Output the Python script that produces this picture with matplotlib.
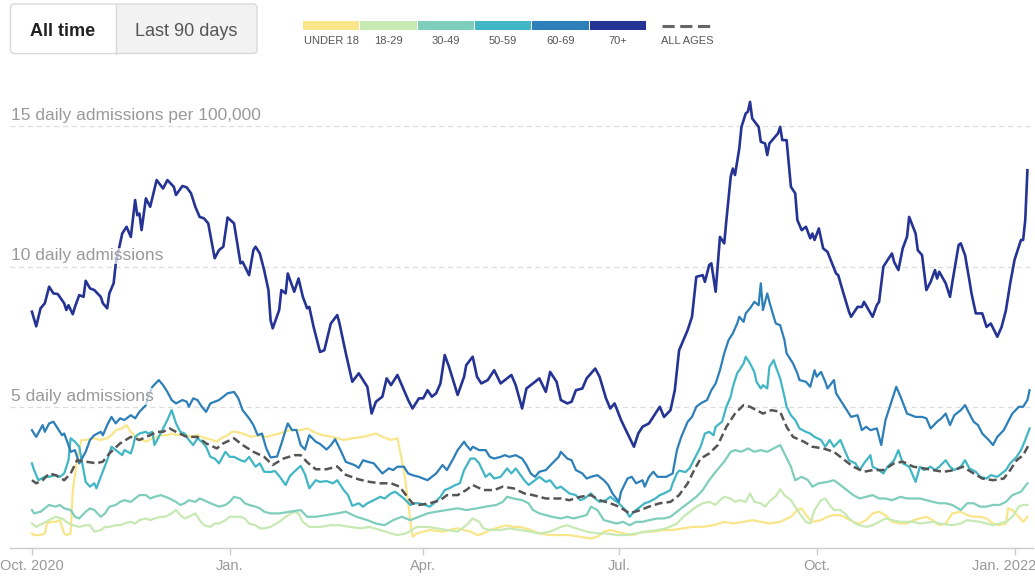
import numpy as np
import matplotlib.pyplot as plt
import matplotlib.dates as mdates
from matplotlib.patches import Rectangle, FancyBboxPatch
from matplotlib.transforms import ScaledTranslation

plt.rcParams['font.family'] = ['Liberation Sans', 'DejaVu Sans']

# (days after Oct. 1, 2020, daily admissions per 100,000)
under_18 = [(0,0.52),(1,0.46),(4,0.46),(6,0.52),(7,0.87),(9,0.93),(11,0.93),(13,0.99),(15,0.52),(16,0.46),
    (18,0.52),(19,2.06),(21,3.12),(22,3.48),(23,3.84),(25,3.84),(29,3.90),(32,3.84),(35,3.90),(37,4.01),
    (39,4.19),(42,4.25),(44,4.37),(46,4.13),(49,3.90),(51,3.84),(53,3.78),(56,3.90),(58,3.95),(60,4.01),
    (63,4.01),(65,4.07),(67,4.01),(70,4.07),(72,4.01),(74,3.95),(77,4.01),(79,3.95),(81,3.90),(84,3.84),
    (86,3.78),(88,3.90),(91,4.01),(93,4.13),(95,4.13),(98,4.07),(100,4.01),(102,3.95),(105,4.01),(109,3.95),
    (112,4.01),(115,4.07),(120,4.19),(125,4.19),(128,4.25),(131,4.13),(135,4.01),(140,3.95),(145,3.84),
    (149,3.90),(154,3.95),(157,4.01),(160,4.07),(163,3.95),(167,3.84),(170,3.90),(173,2.77),(175,1.59),
    (177,0.40),(179,0.52),(182,0.58),(185,0.64),(191,0.58),(194,0.64),(198,0.70),(201,0.64),(204,0.58),
    (207,0.46),(210,0.52),(213,0.64),(218,0.75),(221,0.81),(224,0.75),(227,0.75),(232,0.64),(236,0.52),
    (241,0.46),(246,0.46),(250,0.46),(255,0.40),(260,0.34),(263,0.40),(266,0.58),(269,0.64),(272,0.58),
    (275,0.52),(280,0.46),(284,0.58),(289,0.58),(294,0.64),(298,0.64),(303,0.70),(307,0.75),(312,0.75),
    (317,0.81),(322,0.93),(326,0.87),(331,0.93),(335,0.99),(339,0.93),(343,0.87),(348,0.93),(353,1.11),
    (356,1.35),(358,1.41),(360,1.17),(363,0.93),(367,0.99),(370,1.11),(373,1.17),(376,1.17),(379,1.05),
    (382,0.93),(385,0.87),(388,0.99),(391,1.23),(394,1.29),(397,1.17),(400,0.93),(404,0.87),(407,0.87),
    (410,0.99),(413,1.05),(416,1.11),(419,0.99),(422,0.81),(425,0.87),(428,1.23),(432,1.29),(435,1.17),
    (438,1.11),(441,1.11),(444,1.05),(447,0.87),(450,0.81),(453,0.87),(454,1.41),(456,1.35),(459,1.11),
    (461,0.93),(463,1.11)]

age_18_29 = [(0,0.87),(2,0.75),(5,0.87),(8,0.99),(11,1.11),(14,1.05),(16,0.93),(19,0.81),(22,0.75),(25,0.81),
    (27,0.81),(29,0.58),(32,0.64),(34,0.75),(36,0.75),(39,0.81),(41,0.81),(43,0.87),(46,0.93),(48,0.87),
    (50,0.99),(53,1.05),(55,0.99),(57,1.05),(60,1.11),(62,1.11),(65,1.23),(67,1.35),(69,1.17),(71,1.05),
    (73,1.11),(76,1.23),(78,0.99),(80,0.81),(83,0.75),(85,0.87),(87,0.87),(90,0.99),(92,1.11),(97,1.11),
    (99,1.05),(101,0.87),(104,0.81),(106,0.70),(108,0.70),(111,0.75),(115,0.93),(118,1.11),(122,1.29),
    (124,1.23),(126,0.93),(129,0.75),(134,0.75),(139,0.81),(143,0.81),(148,0.75),(153,0.70),(157,0.75),
    (162,0.64),(167,0.52),(170,0.46),(174,0.52),(179,0.75),(184,0.75),(188,0.70),(193,0.64),(198,0.58),
    (202,0.81),(205,1.05),(208,0.93),(210,0.70),(213,0.64),(218,0.64),(222,0.70),(227,0.64),(232,0.58),
    (236,0.52),(241,0.58),(246,0.75),(249,0.81),(253,0.70),(258,0.58),(263,0.52),(267,0.52),(272,0.46),
    (277,0.46),(281,0.52),(286,0.58),(291,0.64),(295,0.70),(300,0.87),(303,1.11),(306,1.29),(309,1.47),
    (312,1.59),(315,1.64),(318,1.53),(320,1.70),(322,1.82),(325,1.76),(327,1.64),(329,1.70),(332,1.64),
    (334,1.94),(336,1.64),(339,1.59),(341,1.47),(343,1.65),(346,1.85),(348,2.09),(350,1.88),(353,1.70),
    (355,1.47),(357,1.23),(360,0.93),(362,0.87),(364,1.35),(367,1.70),(369,1.76),(371,1.53),(373,1.35),
    (376,1.35),(378,1.23),(380,1.05),(383,0.87),(385,0.81),(388,0.75),(391,0.81),(394,0.93),(397,1.05),
    (400,0.99),(404,0.93),(410,0.93),(413,0.87),(419,0.93),(422,0.87),(428,0.81),(432,0.87),(435,0.99),
    (441,0.93),(447,0.81),(450,0.87),(453,0.93),(456,1.11),(459,1.47),(461,1.53),(463,1.53)]

age_30_49 = [(0,1.35),(1,1.23),(4,1.29),(6,1.41),(8,1.53),(11,1.47),(13,1.53),(15,1.41),(18,1.35),(20,1.11),
    (22,1.05),(25,1.29),(27,1.41),(29,1.35),(32,1.11),(34,1.23),(36,1.47),(39,1.53),(41,1.64),(43,1.70),
    (46,1.64),(48,1.76),(50,1.88),(53,1.88),(55,1.76),(57,1.82),(60,1.88),(62,1.82),(64,1.76),(67,1.64),
    (69,1.53),(71,1.59),(73,1.70),(76,1.64),(78,1.76),(80,1.70),(83,1.59),(85,1.53),(87,1.47),(90,1.53),
    (92,1.64),(94,1.82),(97,1.76),(99,1.59),(101,1.53),(104,1.47),(106,1.41),(108,1.29),(111,1.23),
    (115,1.23),(120,1.29),(125,1.35),(128,1.11),(132,1.11),(137,1.17),(142,1.23),(146,1.29),(151,1.11),
    (156,0.99),(160,0.87),(164,0.81),(168,0.99),(172,1.11),(176,0.99),(180,1.11),(184,1.23),(188,1.29),
    (193,1.35),(198,1.41),(202,1.35),(207,1.41),(211,1.47),(216,1.53),(219,1.64),(221,1.82),(224,1.76),
    (228,1.70),(231,1.59),(233,1.35),(236,1.23),(239,1.17),(242,1.11),(246,1.05),(249,1.11),(252,1.05),
    (255,1.11),(258,1.17),(260,1.47),(263,1.35),(266,0.99),(269,0.93),(272,0.87),(275,0.93),(278,0.81),
    (281,0.93),(284,0.93),(287,0.99),(291,1.05),(294,1.05),(297,1.11),(300,1.29),(303,1.47),(306,1.64),
    (309,1.82),(312,2.06),(315,2.41),(318,2.71),(322,3.07),(325,3.42),(327,3.48),(330,3.42),(333,3.54),
    (336,3.42),(339,3.48),(342,3.42),(345,3.54),(348,3.66),(350,3.36),(353,2.89),(355,2.41),(358,2.53),
    (361,2.41),(363,2.18),(366,2.30),(370,2.35),(373,2.41),(376,2.24),(379,2.06),(382,1.88),(385,1.76),
    (388,1.82),(391,1.88),(394,1.76),(397,1.76),(400,1.70),(404,1.82),(407,1.76),(410,1.76),(413,1.76),
    (416,1.70),(419,1.64),(422,1.59),(425,1.59),(428,1.53),(432,1.35),(435,1.59),(438,1.59),(441,1.47),
    (444,1.47),(447,1.53),(450,1.53),(453,1.64),(456,1.88),(460,2.00),(463,2.30)]

age_50_59 = [(0,3.01),(1,2.77),(3,2.41),(6,2.53),(8,2.53),(11,2.59),(13,2.53),(15,2.65),(17,3.12),(18,3.90),
    (20,3.78),(22,3.60),(24,2.77),(25,2.35),(27,2.18),(29,2.30),(30,2.12),(32,2.53),(35,3.12),(37,3.60),
    (39,3.48),(42,3.30),(43,3.48),(46,3.36),(47,3.60),(48,3.95),(50,4.07),(53,4.13),(54,4.07),(56,4.13),
    (57,3.66),(59,3.95),(61,4.25),(63,4.55),(65,4.90),(67,4.43),(69,4.13),(71,4.07),(73,3.84),(75,3.66),
    (77,3.90),(79,3.78),(81,3.60),(83,3.24),(85,3.18),(87,3.01),(90,3.42),(92,3.24),(94,3.24),(97,3.12),
    (99,3.07),(101,3.24),(104,2.89),(106,3.01),(108,2.71),(111,2.70),(113,2.74),(115,2.56),(118,2.24),
    (120,2.56),(122,2.71),(125,2.92),(127,2.62),(129,2.12),(132,2.41),(134,2.35),(137,2.38),(140,2.30),
    (142,2.41),(145,2.06),(147,1.88),(149,1.50),(152,1.59),(154,1.47),(156,1.59),(159,1.70),(162,1.82),
    (164,1.76),(167,1.94),(169,2.00),(171,1.88),(173,1.76),(176,1.53),(178,1.59),(180,1.59),(183,1.53),
    (185,1.47),(187,1.59),(190,1.82),(192,2.06),(194,2.12),(197,2.24),(199,2.30),(201,2.77),(204,3.18),
    (206,3.18),(208,3.01),(211,2.53),(213,2.65),(215,2.47),(218,2.53),(221,2.83),(223,2.65),(225,2.83),
    (229,2.41),(231,2.24),(234,2.41),(236,2.53),(239,2.35),(241,2.41),(244,2.12),(246,2.18),(250,1.94),
    (253,1.88),(255,1.70),(257,1.76),(260,1.94),(262,1.76),(264,1.64),(267,1.70),(269,1.82),(271,1.70),
    (273,1.59),(276,1.35),(278,1.11),(280,1.29),(283,1.47),(285,1.59),(287,1.64),(290,1.76),(292,1.88),
    (294,1.94),(297,2.06),(298,2.30),(300,2.65),(301,2.75),(304,2.70),(306,2.85),(307,3.00),(311,3.60),
    (313,4.07),(315,4.13),(317,4.01),(318,4.31),(321,4.49),(323,5.02),(325,5.38),(326,5.73),(328,6.21),
    (329,6.32),(331,6.56),(332,6.80),(334,6.56),(336,6.26),(337,5.91),(339,5.67),(340,5.79),(342,5.67),
    (343,6.44),(345,6.68),(346,6.44),(348,6.03),(350,5.38),(351,5.02),(353,4.72),(355,4.55),(357,4.25),
    (360,4.13),(362,4.07),(364,3.95),(367,3.84),(369,3.60),(371,3.84),(373,3.60),(376,3.84),(378,3.48),
    (380,3.12),(383,3.01),(385,2.77),(387,3.01),(390,3.30),(391,2.89),(394,2.77),(396,2.65),(398,2.89),
    (401,3.12),(403,3.48),(405,3.01),(408,2.89),(411,2.35),(413,2.89),(415,2.77),(418,2.89),(420,2.77),
    (422,2.89),(425,3.12),(427,2.89),(429,2.77),(432,2.89),(434,3.12),(436,2.83),(439,2.71),(441,2.53),
    (444,2.47),(446,2.59),(449,2.53),(451,2.65),(453,2.77),(455,3.01),(458,3.24),(460,3.48),(462,3.84),
    (464,4.25)]

age_60_69 = [(0,4.19),(2,3.95),(5,4.37),(6,4.13),(8,4.43),(10,4.49),(12,4.25),(14,4.01),(15,4.07),(17,3.66),
    (18,3.42),(20,3.48),(22,3.01),(25,3.42),(27,3.84),(29,4.01),(32,4.13),(33,4.01),(35,4.37),(37,4.66),
    (39,4.43),(41,4.61),(43,4.55),(46,4.72),(48,4.61),(50,4.84),(53,5.08),(54,5.38),(56,5.73),(59,5.97),
    (61,5.79),(63,5.55),(65,5.26),(67,5.14),(70,5.26),(72,5.20),(73,5.02),(75,5.32),(77,5.26),(79,5.02),
    (81,4.84),(83,5.14),(85,5.20),(87,5.26),(91,5.50),(94,5.55),(96,5.32),(98,4.90),(101,4.61),(103,4.37),
    (105,4.01),(107,4.07),(109,3.54),(111,3.22),(114,3.25),(116,3.70),(118,4.20),(119,4.43),(121,4.19),
    (123,4.20),(125,3.66),(127,3.50),(129,4.01),(132,3.78),(134,3.70),(137,3.50),(139,3.65),(141,3.87),
    (144,3.40),(146,3.06),(150,2.95),(152,2.85),(154,3.12),(156,3.07),(159,3.01),(161,2.83),(163,2.65),
    (166,2.83),(168,2.77),(170,2.89),(173,2.89),(175,2.65),(177,2.59),(180,2.53),(184,2.41),(186,2.53),
    (188,2.65),(191,2.95),(193,2.77),(196,3.18),(198,3.48),(201,3.78),(202,3.66),(204,3.48),(205,3.60),
    (208,3.48),(211,3.48),(213,3.24),(215,3.18),(218,3.24),(220,3.30),(222,3.24),(225,3.30),(228,3.18),
    (230,2.95),(232,2.65),(234,2.53),(236,2.71),(239,2.77),(242,3.01),(245,3.24),(246,3.42),(249,3.18),
    (251,3.12),(253,2.77),(256,2.65),(258,2.47),(260,2.53),(263,2.59),(266,2.41),(268,2.24),(270,1.94),
    (273,1.64),(274,2.00),(277,2.47),(279,2.53),(281,2.30),(284,2.41),(285,2.18),(287,2.53),(289,2.71),
    (291,2.53),(295,2.53),(298,2.65),(300,3.48),(302,3.95),(305,4.49),(307,4.66),(309,5.02),(311,5.14),
    (314,5.26),(316,5.61),(318,5.85),(320,6.32),(322,6.92),(324,7.39),(326,7.63),(328,7.98),(329,8.22),
    (331,8.04),(332,8.34),(334,8.52),(336,8.75),(338,8.63),(339,9.41),(340,8.46),(342,9.05),(343,8.75),
    (345,8.22),(346,7.98),(348,7.92),(350,7.39),(351,6.92),(353,6.68),(354,6.56),(356,6.21),(357,5.97),
    (360,5.91),(362,5.73),(364,6.32),(365,6.09),(367,6.26),(369,5.91),(370,5.67),(373,5.97),(374,5.50),
    (377,5.14),(379,4.90),(381,4.66),(384,4.72),(386,4.19),(388,4.31),(390,4.19),(393,4.25),(395,3.66),
    (397,4.55),(400,5.26),(402,5.73),(404,5.38),(407,4.78),(409,4.72),(411,4.66),(414,4.66),(416,4.61),
    (418,4.25),(421,4.49),(423,4.61),(425,4.78),(427,4.37),(429,4.72),(432,4.90),(434,5.08),(436,4.78),
    (438,4.49),(440,4.37),(442,4.07),(445,3.84),(447,3.66),(449,3.95),(452,4.19),(454,4.49),(456,4.78),
    (459,5.02),(461,5.02),(463,5.26),(464,5.61)]

age_70_up = [(0,8.40),(2,7.88),(4,8.52),(6,8.70),(8,9.29),(10,9.05),(12,9.03),(15,8.70),(16,8.46),(17,8.63),
    (19,8.31),(20,8.57),(22,8.99),(24,8.93),(25,9.50),(27,9.23),(29,9.17),(32,8.93),(33,8.70),(35,8.52),
    (36,9.05),(38,9.41),(39,10.12),(42,11.18),(44,11.42),(46,11.06),(48,12.37),(49,11.83),(50,11.89),
    (51,11.30),(53,12.43),(55,12.13),(58,13.08),(61,12.78),(63,13.08),(66,12.84),(67,12.55),(70,12.87),
    (72,12.82),(74,12.61),(76,12.13),(78,11.77),(80,11.72),(82,11.54),(85,10.30),(87,10.59),(89,10.71),
    (91,11.75),(94,11.54),(97,10.12),(98,10.17),(101,9.70),(103,10.59),(104,10.71),(106,10.47),(108,9.88),
    (110,9.17),(111,8.10),(112,7.81),(115,8.46),(116,9.17),(118,9.05),(119,9.76),(122,9.11),(124,9.58),
    (126,8.93),(128,8.52),(129,8.57),(131,7.86),(134,6.97),(136,7.03),(139,7.98),(142,8.28),(143,8.00),
    (146,6.92),(149,5.91),(152,6.21),(154,5.97),(156,5.73),(158,4.78),(160,5.20),(163,5.38),(165,6.03),
    (167,5.79),(170,6.15),(173,5.61),(175,5.26),(177,4.96),(180,5.32),(182,5.32),(184,5.61),(186,5.38),
    (188,5.50),(190,5.85),(192,6.86),(194,6.44),(198,5.44),(201,6.09),(202,6.50),(205,6.80),(207,6.09),
    (209,5.85),(212,5.97),(215,6.32),(218,5.85),(221,6.03),(223,6.15),(225,5.79),(228,4.96),(230,5.67),
    (233,5.85),(236,6.03),(239,5.55),(241,6.26),(244,5.91),(246,5.26),(249,5.14),(251,5.20),(253,5.61),
    (256,5.67),(258,6.03),(262,6.38),(264,6.09),(267,5.32),(269,4.96),(271,5.14),(274,4.55),(277,4.07),
    (280,3.60),(282,4.07),(284,4.31),(287,4.43),(290,4.78),(292,5.02),(294,4.66),(297,4.90),(299,5.61),
    (301,7.03),(305,7.75),(307,8.22),(309,9.64),(312,9.70),(313,9.46),(315,10.06),(316,10.12),(318,9.11),
    (320,11.06),(322,10.83),(323,11.66),(325,13.20),(326,13.49),(327,13.26),(329,14.21),(330,14.97),
    (332,15.45),(333,15.51),(334,15.86),(335,15.27),(338,14.97),(339,14.44),(341,14.38),(342,13.97),
    (343,14.38),(345,14.56),(347,14.74),(348,14.97),(349,14.50),(351,14.50),(353,12.84),(355,12.61),
    (356,11.66),(358,11.30),(360,11.42),(362,11.01),(363,11.18),(364,10.95),(366,11.36),(368,10.65),
    (370,10.53),(374,9.76),(375,9.70),(377,9.17),(380,8.40),(381,8.22),(384,8.57),(386,8.57),(387,8.75),
    (391,8.22),(393,8.64),(394,8.75),(396,10.00),(398,10.24),(400,10.47),(401,10.17),(403,9.88),(405,10.65),
    (407,11.06),(408,11.77),(411,11.18),(412,10.59),(414,10.41),(416,9.17),(418,9.46),(420,9.88),(421,9.58),
    (422,9.82),(425,9.41),(427,8.93),(428,9.41),(431,10.77),(432,10.83),(434,10.41),(436,9.52),(437,9.05),
    (439,8.34),(442,8.34),(444,7.86),(446,7.98),(449,7.51),(451,7.86),(453,8.45),(455,9.41),(457,10.24),
    (460,10.95),(461,10.95),(462,11.66),(463,13.43)]

all_ages = [(0,2.41),(2,2.30),(5,2.41),(8,2.65),(11,2.59),(15,2.41),(18,2.65),(21,3.12),(25,3.07),(30,3.01),
    (33,3.07),(36,3.36),(41,3.72),(46,3.95),(50,3.84),(55,4.01),(58,4.13),(61,4.13),(64,4.25),(67,4.13),
    (72,3.95),(77,3.95),(81,3.72),(86,3.54),(89,3.72),(94,3.90),(98,3.66),(103,3.42),(108,3.24),(112,2.95),
    (117,3.18),(122,3.30),(125,3.30),(128,3.05),(132,2.80),(137,2.80),(142,2.90),(146,2.60),(152,2.44),
    (157,2.35),(162,2.30),(167,2.30),(171,2.18),(174,1.88),(177,1.59),(180,1.53),(185,1.59),(190,1.70),
    (193,1.88),(198,1.88),(202,2.06),(205,2.24),(210,2.06),(215,2.06),(219,2.18),(224,2.12),(229,1.94),
    (233,1.88),(239,1.76),(246,1.76),(250,1.70),(255,1.82),(260,1.88),(264,1.70),(269,1.59),(273,1.47),
    (278,1.23),(283,1.35),(287,1.47),(292,1.59),(297,1.64),(301,1.88),(305,2.30),(308,2.77),(311,3.18),
    (315,3.36),(319,3.66),(323,4.31),(327,4.78),(331,5.08),(334,5.02),(337,4.90),(340,4.78),(344,4.90),
    (348,4.84),(351,4.31),(354,3.95),(359,3.78),(363,3.60),(368,3.54),(373,3.42),(377,3.18),(382,2.89),
    (387,2.71),(391,2.77),(396,2.77),(401,3.01),(405,3.07),(410,2.89),(415,2.83),(419,2.77),(424,2.71),
    (429,2.77),(433,2.89),(438,2.65),(442,2.47),(447,2.41),(452,2.47),(455,2.77),(458,3.12),(461,3.30),
    (464,3.72)]

legend_labels = ['UNDER 18', '18-29', '30-49', '50-59', '60-69', '70+']
colors = ['#f9e68a', '#c7e9b4', '#7fcdbb', '#41b6c4', '#2c7fb8', '#253494']
grid_values = [5, 10, 15]
grid_labels = ['5 daily admissions', '10 daily admissions', '15 daily admissions per 100,000']
tick_dates = ['2020-10-01', '2021-01-01', '2021-04-01', '2021-07-01', '2021-10-01', '2022-01-01']
tick_labels = ['Oct. 2020', 'Jan.', 'Apr.', 'Jul.', 'Oct.', 'Jan. 2022']

start = np.datetime64('2020-10-01')


def unpack(pairs):
    days = np.array([p[0] for p in pairs])
    vals = np.array([p[1] for p in pairs])
    return start + days.astype('timedelta64[D]'), vals


W, H = 1035, 578
fig = plt.figure(figsize=(W / 100, H / 100), dpi=100)
ax = fig.add_axes([10 / W, 1 - 548 / H, 1023 / W, (548 - 69.8) / H])

series = [under_18, age_18_29, age_30_49, age_50_59, age_60_69, age_70_up]
for s, c in zip(series, colors):
    x, y = unpack(s)
    lw = 1.9 if s is age_70_up else 1.6
    ax.plot(x, y, color=c, lw=lw, solid_joinstyle='round', zorder=3)

x, y = unpack(all_ages)
ax.plot(x, y, color='#555555', lw=1.8, dashes=(3.2, 1.6), zorder=4)

x0 = mdates.date2num(start)
ax.set_xlim(x0 - 10.2, x0 + 465.6)
ax.set_ylim(0, 17)

for v, lab in zip(grid_values, grid_labels):
    ax.axhline(v, color='#dddddd', lw=0.9, dashes=(4, 3), zorder=1)
    ax.text(0.001, v + 0.12, lab, transform=ax.get_yaxis_transform(), ha='left', va='bottom',
            fontsize=12.5, color='#999999', zorder=6,
            bbox=dict(facecolor='white', alpha=0.7, edgecolor='none', pad=0.5))
ax.axhline(0, color='#cccccc', lw=1, clip_on=False, zorder=2)

ax.set_xticks(mdates.date2num(np.array(tick_dates, dtype='datetime64[D]')))
ax.set_xticklabels(tick_labels)
ax.tick_params(axis='x', length=5, width=1, color='#cccccc', labelcolor='#999999', labelsize=10.5, pad=3)
# last label is pulled in so it stays inside the frame
last = ax.get_xticklabels()[-1]
last.set_transform(last.get_transform() + ScaledTranslation(-0.1, 0, fig.dpi_scale_trans))
ax.set_yticks([])
for sp in ax.spines.values():
    sp.set_visible(False)

# header: time toggle and legend, drawn in pixel coordinates
ov = fig.add_axes([0, 0, 1, 1])
ov.set_xlim(0, W)
ov.set_ylim(H, 0)
ov.axis('off')

ov.add_patch(FancyBboxPatch((10.5, 4), 246.5, 49.5, boxstyle='round,pad=0,rounding_size=4',
                            fc='#f2f2f2', ec='none'))
ov.add_patch(FancyBboxPatch((10.5, 4), 105, 49.5, boxstyle='round,pad=0,rounding_size=4',
                            fc='white', ec='none'))
ov.add_patch(Rectangle((60, 4), 55.5, 49.5, fc='white', ec='none'))
ov.add_patch(FancyBboxPatch((10.5, 4), 246.5, 49.5, boxstyle='round,pad=0,rounding_size=4',
                            fc='none', ec='#d9d9d9', lw=1))
ov.plot([115.5, 115.5], [4, 53.5], color='#d9d9d9', lw=1)
ov.text(63, 31.5, 'All time', ha='center', va='center', fontsize=13, fontweight='bold', color='#222222')
ov.text(186, 31.5, 'Last 90 days', ha='center', va='center', fontsize=13, color='#555555')

for i, (lab, c) in enumerate(zip(legend_labels, colors)):
    lx = 303 + i * 57.3
    ov.add_patch(Rectangle((lx, 21), 56.3, 9, fc=c, ec='none'))
    ov.text(lx + 28.2, 41.5, lab, ha='center', va='center', fontsize=8, color='#555555')
ov.plot([662, 712], [25.5, 25.5], color='#666666', lw=2.2, dashes=(4, 1.8))
ov.text(687, 41.5, 'ALL AGES', ha='center', va='center', fontsize=8, color='#555555')

fig.savefig('out.png', dpi=100)
